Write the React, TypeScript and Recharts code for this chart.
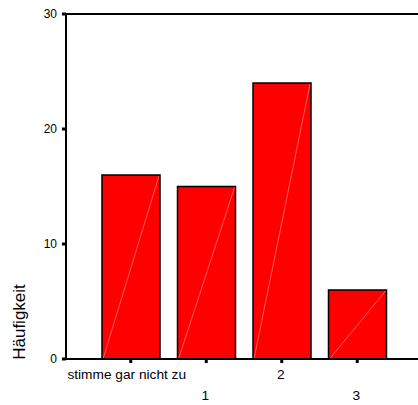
import React from 'react';
import { BarChart, Bar, XAxis, YAxis, ReferenceLine } from 'recharts';

const categories = ['stimme gar nicht zu', '1', '2', '3'];
const counts = [16, 15, 24, 6];
const yTicks = [0, 10, 20, 30];

const data = categories.map((name, i) => ({ name, count: counts[i] }));

const FONT = 'Arial, "Liberation Sans", sans-serif';

// SPSS-style staggered category labels
function StaggeredTick(props: any) {
  const { x, y, payload, index } = props;
  const dy = index % 2 === 0 ? 14 : 35;
  const dx = payload.value.length > 3 ? -4 : -1;
  return (
    <text x={x + dx} y={y + dy} textAnchor="middle" fontSize={13.7} fontFamily={FONT} fill="#000">
      {payload.value}
    </text>
  );
}

function HatchedBar(props: any) {
  const { x, y, width, height } = props;
  if (!height) return null;
  return (
    <g>
      <rect x={x} y={y} width={width} height={height} fill="#ff0000" stroke="#000" strokeWidth={1.5} />
      <line x1={x + 1} y1={y + height} x2={x + width - 1} y2={y + 1} stroke="#ff9a9a" strokeWidth={0.6} />
    </g>
  );
}

function YLabel(props: any) {
  const { viewBox } = props;
  const cx = 25;
  const cy = viewBox.y + viewBox.height - 37;
  return (
    <text x={cx} y={cy} transform={`rotate(-90, ${cx}, ${cy})`} textAnchor="middle"
      fontSize={17} fontFamily={FONT} fill="#000">
      Häufigkeit
    </text>
  );
}

export default function App() {
  return (
    <div style={{ position: 'absolute', left: 0, top: 0, width: 418, height: 405, overflow: 'hidden', background: '#fff' }}>
      <BarChart width={430} height={405} data={data} margin={{ top: 14, right: 8, bottom: 0, left: 0 }} barSize={58}>
        <XAxis
          dataKey="name"
          height={46}
          interval={0}
          padding={{ left: 27, right: 27 }}
          axisLine={{ stroke: '#000', strokeWidth: 2 }}
          tickLine={{ stroke: '#000', strokeWidth: 3 }}
          tickSize={4}
          tick={<StaggeredTick />}
        />
        <YAxis
          width={66}
          domain={[0, 30]}
          ticks={yTicks}
          interval={0}
          axisLine={{ stroke: '#000', strokeWidth: 2 }}
          tickLine={{ stroke: '#000', strokeWidth: 3 }}
          tickSize={4}
          tickMargin={5}
          tick={{ fontSize: 12, fontFamily: FONT, fill: '#000' }}
          label={<YLabel />}
        />
        <ReferenceLine y={30} stroke="#000" strokeWidth={2} />
        <Bar dataKey="count" isAnimationActive={false} shape={<HatchedBar />} />
      </BarChart>
    </div>
  );
}
